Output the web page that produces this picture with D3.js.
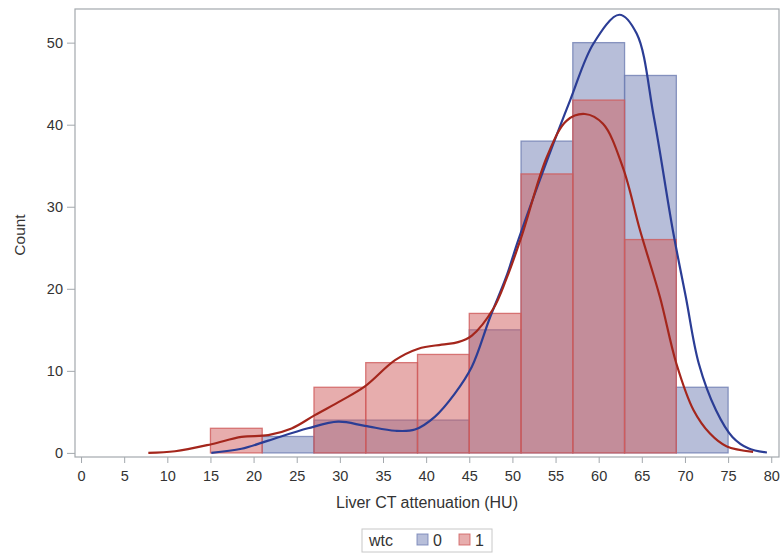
<!DOCTYPE html>
<html>
<head>
<meta charset="utf-8">
<script src="https://cdn.jsdelivr.net/npm/d3@7"></script>
<style>
  body { margin: 0; background: #fff; }
  text { font-family: "Liberation Sans", Arial, sans-serif; fill: #333; }
</style>
</head>
<body>
<svg width="783" height="555"></svg>
<script>
// histogram bins (HU), width 6
var binEdges = [15, 21, 27, 33, 39, 45, 51, 57, 63, 69, 75];
var counts0 = [0, 2, 4, 4, 4, 15, 38, 50, 46, 8];
var counts1 = [3, 0, 8, 11, 12, 17, 34, 43, 26, 0];

// kernel density curves: [HU, count]
var kde0 = [[15.1,0],[18.6,0.5],[21.7,1.5],[26.3,3],[29.8,3.8],[32.9,3.3],[36.4,2.7],[38.7,2.85],
  [41,4.4],[43.3,7.2],[45.3,10.5],[47.4,16.5],[49.3,21.5],[50.7,26],[54,35.6],[56.7,43],[59.4,49.9],
  [62.4,53.4],[64.4,51.1],[66.4,40.9],[68.6,27.1],[70.1,19],[71.6,10.9],[73.6,5.2],[75.5,1.95],
  [77.4,0.53],[79.5,0.05]];
var kde1 = [[7.8,0],[10.9,0.2],[15.1,1.06],[18.6,1.95],[21.7,2.16],[24.4,2.97],[27.1,4.6],[30.2,6.4],
  [32.9,8.1],[36.4,11.3],[39.1,12.7],[41.8,13.2],[43.7,13.5],[45.3,14.3],[47.8,17.6],[49.3,21.2],
  [51.1,26.5],[54,36.1],[56.3,40.5],[58.4,41.3],[60.5,40.1],[62.8,34.8],[64.8,27.1],[67.1,19],
  [69,10.9],[71,5.2],[72.9,2.36],[74.8,0.82],[77.9,0.12]];

var xTicks = d3.range(0, 81, 5);
var yTicks = [0, 10, 20, 30, 40, 50];
var groups = ["0", "1"];

var fillColors = ["#6f7eb3", "#d05b5b"];
var lineColors = ["#2b3d95", "#a4261c"];

var svg = d3.select("svg");
var pLeft = 75, pTop = 9, pRight = 779, pBottom = 457;

var x = d3.scaleLinear().domain([-0.7, 80.9]).range([pLeft, pRight]);
var y = d3.scaleLinear().domain([-0.5, 54.1]).range([pBottom, pTop]);

// frame
svg.append("rect")
  .attr("x", pLeft).attr("y", pTop)
  .attr("width", pRight - pLeft).attr("height", pBottom - pTop)
  .attr("fill", "none").attr("stroke", "#a3a8ad").attr("stroke-width", 1.2);

// bars
[counts0, counts1].forEach(function(counts, g){
  svg.append("g")
    .selectAll("rect")
    .data(counts)
    .enter()
    .append("rect")
    .attr("x", function(d,i){ return x(binEdges[i]); })
    .attr("width", function(d,i){ return x(binEdges[i+1]) - x(binEdges[i]); })
    .attr("y", function(d){ return y(d); })
    .attr("height", function(d){ return y(0) - y(d); })
    .attr("fill", fillColors[g])
    .attr("fill-opacity", 0.5)
    .attr("stroke", fillColors[g])
    .attr("stroke-opacity", 0.8)
    .attr("stroke-width", 1.3)
    .style("display", function(d){ return d > 0 ? null : "none"; });
});

// density curves
var line = d3.line()
  .x(function(d){ return x(d[0]); })
  .y(function(d){ return y(d[1]); })
  .curve(d3.curveCatmullRom.alpha(0.5));

[kde0, kde1].forEach(function(pts, g){
  svg.append("path")
    .attr("d", line(pts))
    .attr("fill", "none")
    .attr("stroke", lineColors[g])
    .attr("stroke-width", 2.2);
});

// axes
var xAxis = svg.append("g")
  .attr("transform", "translate(0," + pBottom + ")")
  .call(d3.axisBottom(x).tickValues(xTicks).tickSize(6).tickPadding(8));
var yAxis = svg.append("g")
  .attr("transform", "translate(" + pLeft + ",0)")
  .call(d3.axisLeft(y).tickValues(yTicks).tickSize(8).tickPadding(4));

[xAxis, yAxis].forEach(function(a){
  a.select(".domain").remove();
  a.selectAll(".tick line").attr("stroke", "#a3a8ad");
  a.selectAll(".tick text").attr("font-size", 14.5).attr("fill", "#333")
    .style("font-family", "'Liberation Sans', Arial, sans-serif");
});

// axis titles
svg.append("text")
  .attr("x", (pLeft + pRight) / 2).attr("y", 508)
  .attr("text-anchor", "middle").attr("font-size", 16)
  .text("Liver CT attenuation (HU)");

svg.append("text")
  .attr("transform", "translate(25," + ((pTop + pBottom) / 2 + 2) + ") rotate(-90)")
  .attr("text-anchor", "middle").attr("font-size", 15.5)
  .text("Count");

// legend
var lg = svg.append("g").attr("transform", "translate(362,529)");
lg.append("rect")
  .attr("width", 130).attr("height", 23)
  .attr("fill", "#fff").attr("stroke", "#c8c8c8");
lg.append("text").attr("x", 7).attr("y", 17).attr("font-size", 16).text("wtc");
groups.forEach(function(gname, g){
  var gx = 55 + g * 42;
  lg.append("rect")
    .attr("x", gx).attr("y", 5).attr("width", 11).attr("height", 11)
    .attr("fill", fillColors[g]).attr("fill-opacity", 0.5)
    .attr("stroke", fillColors[g]).attr("stroke-opacity", 0.8);
  lg.append("text").attr("x", gx + 16).attr("y", 17).attr("font-size", 16).text(gname);
});
</script>
</body>
</html>
